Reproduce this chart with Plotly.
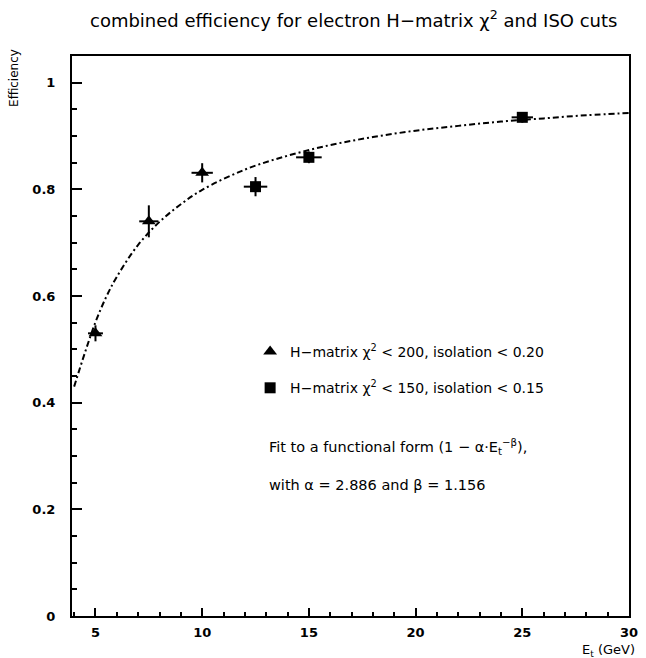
import plotly.graph_objects as go

# ---- data ----
tri_x = [5, 7.5, 10]
tri_y = [0.530, 0.740, 0.831]
tri_ex = [0.35, 0.45, 0.5]
tri_ey = [0.015, 0.030, 0.018]

sq_x = [12.5, 15, 25]
sq_y = [0.805, 0.860, 0.935]
sq_ex = [0.55, 0.6, 0.5]
sq_ey = [0.018, 0.011, 0.010]

fit_x = [4.0, 4.5, 5, 5.5, 6, 7, 8, 9, 10, 12, 14, 16, 18, 20, 22, 24, 26, 28, 30]
fit_y = [0.43, 0.493, 0.551, 0.598, 0.636, 0.696, 0.739, 0.772, 0.799, 0.837,
         0.863, 0.883, 0.898, 0.910, 0.919, 0.927, 0.933, 0.939, 0.943]

x_ticks = [5, 10, 15, 20, 25, 30]
y_ticks = [0, 0.2, 0.4, 0.6, 0.8, 1]
y_ticktext = ["0", "0.2", "0.4", "0.6", "0.8", "1"]

FONT = "DejaVu Sans"
W, H = 646, 658
L, R, T, B = 72, 8, 56, 42
PW, PH = W - L - R, H - T - B


def px(x):
    return (x - L) / PW


def py(y):
    return (H - B - y) / PH


fig = go.Figure()
fig.add_trace(go.Scatter(
    x=fit_x, y=fit_y, mode="lines", line_shape="spline",
    line=dict(color="black", width=2, dash="6px,3px,2px,3px"),
    showlegend=False, hoverinfo="skip"))

fig.add_trace(go.Scatter(
    x=tri_x, y=tri_y, mode="markers",
    name="H\u2212matrix \u03c7<sup>2</sup> &lt; 200, isolation &lt; 0.20",
    legendgroup="a",
    marker=dict(symbol="triangle-up", size=12, color="black"),
    error_x=dict(type="data", array=tri_ex, color="black", thickness=2, width=0),
    error_y=dict(type="data", array=tri_ey, color="black", thickness=2, width=0)))

fig.add_trace(go.Scatter(
    x=sq_x, y=sq_y, mode="markers",
    name="H\u2212matrix \u03c7<sup>2</sup> &lt; 150, isolation &lt; 0.15",
    legendgroup="b",
    marker=dict(symbol="square", size=11, color="black"),
    error_x=dict(type="data", array=sq_ex, color="black", thickness=2, width=0),
    error_y=dict(type="data", array=sq_ey, color="black", thickness=2, width=0)))

axis_common = dict(
    showgrid=False, zeroline=False, showline=True, linecolor="black",
    linewidth=2, mirror=True, ticks="inside", tickcolor="black",
    tickwidth=2, tickfont=dict(family=FONT, size=13, color="black", weight="bold"))

fig.update_xaxes(range=[3.9, 30], tickvals=x_ticks, ticklen=8,
                 minor=dict(dtick=1, ticks="inside", ticklen=4, tickcolor="black", tickwidth=1.5),
                 ticklabelstandoff=3, **axis_common)
fig.update_yaxes(range=[0, 1.05], tickvals=y_ticks, ticktext=y_ticktext,
                 ticklen=10,
                 minor=dict(dtick=0.05, ticks="inside", ticklen=5, tickcolor="black", tickwidth=1.5),
                 ticklabelstandoff=12, **axis_common)

ann = []
ann.append(dict(text="combined efficiency for electron H\u2212matrix \u03c7<sup>2</sup> and ISO cuts",
                x=px(358), y=py(19), xref="paper", yref="paper", showarrow=False,
                xanchor="center", yanchor="middle",
                font=dict(family=FONT, size=18, color="black")))
ann.append(dict(text="Efficiency", textangle=-90, x=px(13), y=py(78), xref="paper", yref="paper",
                showarrow=False, xanchor="center", yanchor="middle",
                font=dict(family=FONT, size=12, color="black")))
ann.append(dict(text="E<sub>t</sub> (GeV)", x=px(646), y=py(650), xref="paper", yref="paper",
                showarrow=False, xanchor="right", yanchor="middle",
                font=dict(family=FONT, size=13, color="black")))
ann.append(dict(text="Fit to a functional form (1 \u2212 \u03b1\u00b7E<sub>t</sub><sup>\u2212\u03b2</sup>),",
                x=px(270), y=py(447), xref="paper", yref="paper", showarrow=False,
                xanchor="left", yanchor="middle",
                font=dict(family=FONT, size=14.5, color="black")))
ann.append(dict(text="with \u03b1 = 2.886 and \u03b2 = 1.156",
                x=px(270), y=py(485), xref="paper", yref="paper", showarrow=False,
                xanchor="left", yanchor="middle",
                font=dict(family=FONT, size=14.5, color="black")))

fig.update_layout(
    width=W, height=H, margin=dict(l=L, r=R, t=T, b=B),
    paper_bgcolor="white", plot_bgcolor="white",
    font=dict(family=FONT, color="black"),
    annotations=ann,
    legend=dict(x=px(253), y=py(336), xanchor="left", yanchor="top",
                bgcolor="rgba(0,0,0,0)", borderwidth=0, tracegroupgap=15,
                font=dict(family=FONT, size=14, color="black")),
)

fig.write_html("out.html")
